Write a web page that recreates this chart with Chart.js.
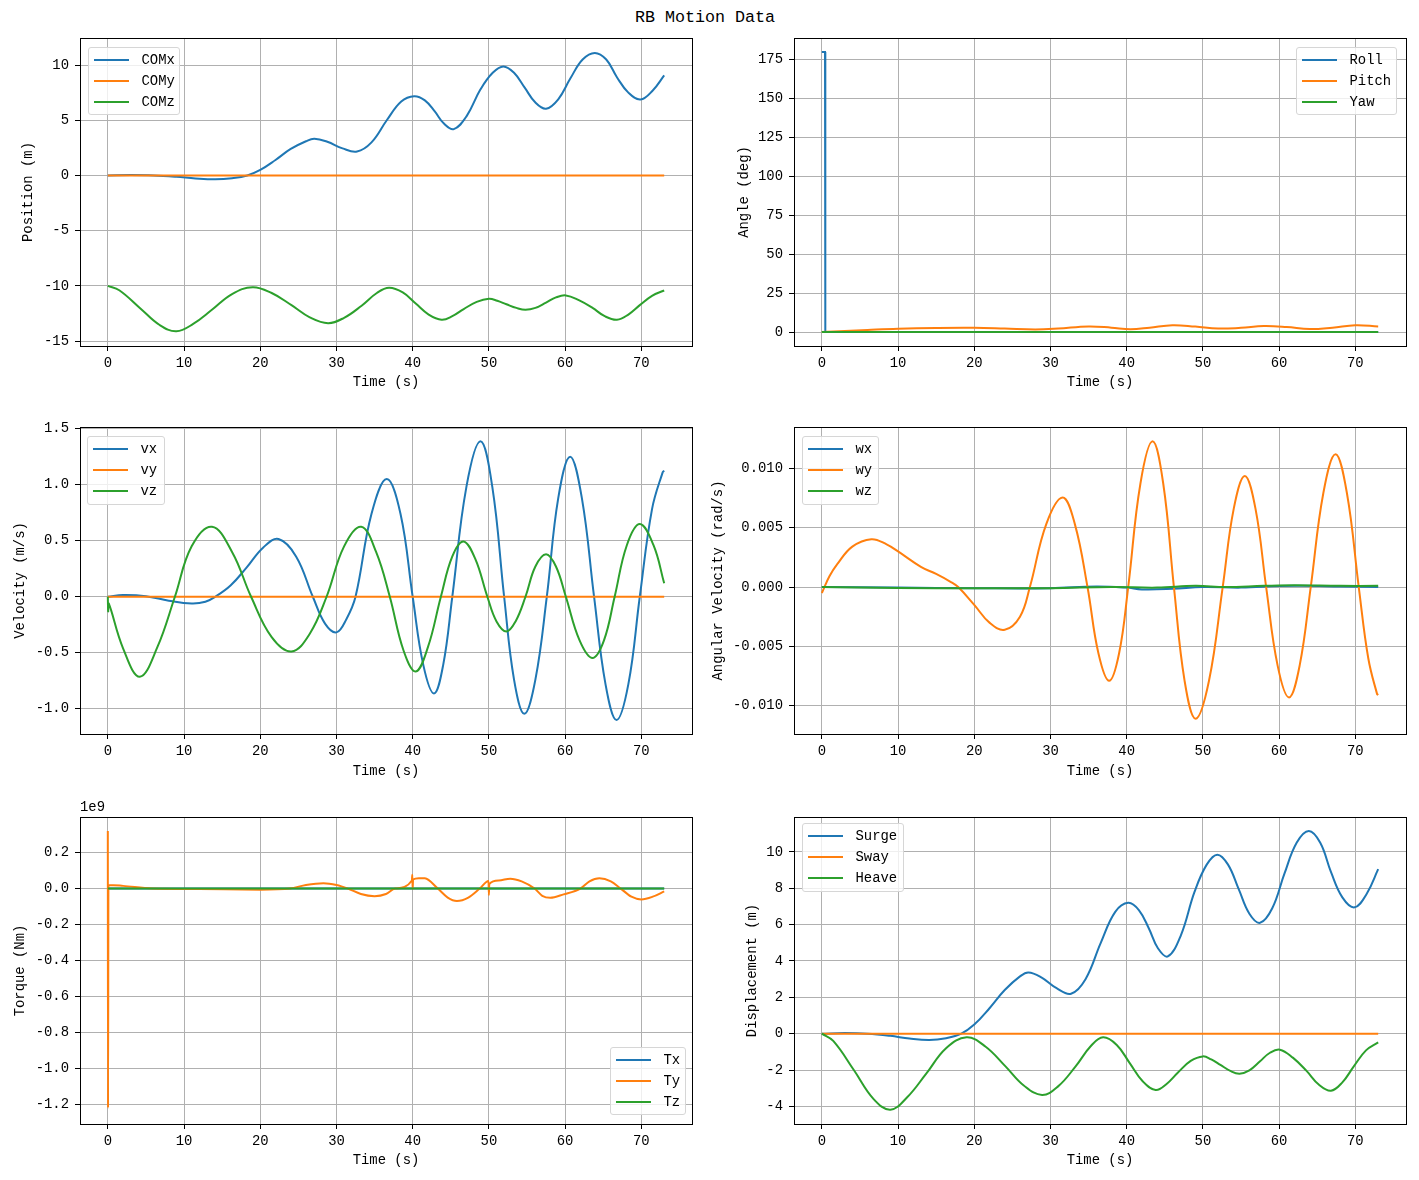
<!DOCTYPE html>
<html>
<head>
<meta charset="utf-8">
<script src="https://cdn.jsdelivr.net/npm/chart.js@4.4.1/dist/chart.umd.min.js"></script>
<style>
  html, body { margin: 0; padding: 0; background: #fff; }
  body { width: 1419px; height: 1180px; position: relative; overflow: hidden;
         font-family: "Liberation Mono", "DejaVu Sans Mono", monospace; color: #000; }
  canvas { position: absolute; }
  #suptitle { position: absolute; left: 0; top: 8px; width: 1410px; text-align: center;
              font-size: 16.7px; line-height: 20px; }
  .legend { position: absolute; box-sizing: border-box; border: 1px solid #d6d6d6;
            border-radius: 3px; background: rgba(255,255,255,0.8); }
  .legend .ln { position: absolute; height: 2px; width: 35px; }
  .legend .tx { position: absolute; font-size: 13.9px; line-height: 16px; white-space: nowrap; }
</style>
</head>
<body>
<div id="suptitle">RB Motion Data</div>
<script>
// ---------------- DATA ----------------
const timeTicks = [0, 10, 20, 30, 40, 50, 60, 70];

// Panel 1: Position
const posLabels = ['COMx', 'COMy', 'COMz'];
const comxT = [0, 3, 6, 9, 11.5, 14.1, 16.3, 18.3, 20, 22, 24, 26, 27.1, 28.8, 30.8, 32.7, 34.6, 36.6, 38.5, 40.2, 41.6, 42.9, 44.1, 45.4, 47.1, 48.9, 50.5, 51.9, 53.3, 54.7, 56.1, 57.5, 59.1, 60.7, 62.3, 63.9, 65.4, 66.8, 68.3, 69.9, 71.5, 73];
const comxV = [0, 0.03, 0.0, -0.12, -0.27, -0.35, -0.25, 0, 0.5, 1.4, 2.4, 3.1, 3.32, 3.05, 2.45, 2.17, 3.0, 5.0, 6.7, 7.18, 6.8, 5.8, 4.7, 4.2, 5.4, 7.8, 9.3, 9.87, 9.3, 7.95, 6.6, 6.04, 6.9, 8.8, 10.5, 11.1, 10.5, 8.9, 7.5, 6.88, 7.7, 9.06];
const comyT = [0, 73];
const comyV = [0, 0];
const comzT = [0, 1.5, 4.2, 6.8, 9.0, 11.2, 13.7, 16.3, 19.0, 21.5, 24.1, 26.5, 28.9, 31.0, 33.3, 35.3, 36.9, 38.7, 40.4, 42.1, 43.8, 45.2, 46.7, 48.4, 50.0, 51.1, 52.3, 53.6, 54.8, 56.1, 57.5, 58.8, 60.1, 61.8, 63.6, 65.2, 66.8, 68.3, 69.8, 71.4, 73];
const comzV = [-10, -10.4, -12.0, -13.55, -14.12, -13.45, -12.15, -10.75, -10.12, -10.65, -11.75, -12.85, -13.38, -12.9, -11.8, -10.65, -10.18, -10.6, -11.6, -12.6, -13.07, -12.75, -12.1, -11.45, -11.17, -11.35, -11.67, -12.0, -12.17, -12.0, -11.52, -11.05, -10.87, -11.3, -12.0, -12.75, -13.07, -12.6, -11.75, -10.9, -10.42];
const posTicks = [-15, -10, -5, 0, 5, 10];

// Panel 2: Angle
const angLabels = ['Roll', 'Pitch', 'Yaw'];
const rollT = [0, 0.42, 0.46, 73];
const rollV = [180, 180, 0, 0];
const pitchT = [0, 3, 6, 10, 15, 20, 24, 28, 31, 35, 38, 40.5, 43, 46, 49, 52, 55, 58, 61, 64, 67, 70, 73];
const pitchV = [0, 0.6, 1.3, 2.1, 2.6, 2.7, 2.2, 1.6, 2.2, 3.6, 2.8, 1.8, 2.8, 4.4, 3.5, 2.2, 2.7, 3.8, 3.2, 1.9, 2.8, 4.4, 3.6];
const yawT = [0, 73];
const yawV = [0, 0];
const angTicks = [0, 25, 50, 75, 100, 125, 150, 175];

// Panel 3: Velocity
const velLabels = ['vx', 'vy', 'vz'];
const vxT = [0, 2, 5, 8, 11, 12.8, 14.1, 16.1, 18.2, 20.4, 22.4, 24.7, 26.9, 28.5, 30, 31.3, 32.5, 34.6, 36.6, 38.4, 40.0, 41.4, 42.8, 44.0, 45.2, 47.05, 48.9, 50.45, 52, 53.3, 54.65, 56.1, 57.6, 59.1, 60.66, 62.2, 63.8, 65.3, 66.75, 68.3, 69.8, 71.4, 72.8, 73];
const vxV = [0, 0.015, 0.005, -0.035, -0.06, -0.045, 0, 0.1, 0.26, 0.44, 0.515, 0.36, 0, -0.24, -0.318, -0.2, 0, 0.74, 1.05, 0.74, 0, -0.61, -0.863, -0.61, 0, 0.98, 1.387, 0.98, 0, -0.74, -1.045, -0.74, 0, 0.88, 1.25, 0.88, 0, -0.78, -1.10, -0.78, 0, 0.78, 1.11, 1.125];
const vyT = [0, 73];
const vyV = [0, 0];
const vzT = [0, 0.05, 0.12, 2, 4.2, 6.5, 8.8, 11, 13.67, 16.3, 18.8, 21.5, 24.1, 26.5, 28.7, 31, 33.25, 35.2, 37, 38.8, 40.4, 42, 43.7, 45.2, 46.65, 48.2, 49.8, 51, 52.3, 53.5, 54.8, 56.1, 57.5, 58.8, 60.1, 61.9, 63.6, 65.1, 66.5, 68.1, 69.8, 71.6, 73];
const vzV = [0, -0.13, -0.06, -0.46, -0.714, -0.45, 0, 0.45, 0.625, 0.4, 0, -0.36, -0.488, -0.33, 0, 0.45, 0.625, 0.4, 0, -0.48, -0.667, -0.45, 0, 0.36, 0.494, 0.34, 0, -0.22, -0.31, -0.22, 0, 0.27, 0.38, 0.27, 0, -0.39, -0.547, -0.39, 0, 0.46, 0.649, 0.46, 0.12];
const velTicks = [-1.0, -0.5, 0.0, 0.5, 1.0, 1.5];

// Panel 4: Angular velocity
const omgLabels = ['wx', 'wy', 'wz'];
const wxT = [0, 10, 20, 30, 36, 40, 42, 46, 50, 55, 60, 63, 68, 73];
const wxV = [0, -0.00005, -0.0001, -0.0001, 0.00005, -0.00005, -0.0002, -0.00015, 0, -0.00005, 0.00008, 0.0001, 0.00005, 0];
const wyT = [0, 1, 2, 4, 6.5, 8.5, 10, 13, 15, 17, 17.9, 20, 22, 24, 26, 27.3, 29.45, 31.6, 33.2, 34.86, 36.3, 37.7, 39.0, 40.2, 41.8, 43.4, 44.8, 46.2, 47.6, 49.05, 50.8, 52.6, 54.05, 55.5, 56.9, 58.3, 59.8, 61.3, 62.7, 64.15, 65.8, 67.4, 68.9, 70.45, 71.7, 72.85, 73];
const wyV = [-0.0005, 0.0009, 0.0019, 0.0034, 0.00403, 0.0036, 0.003, 0.0017, 0.0011, 0.0004, 0, -0.0015, -0.003, -0.0036, -0.0025, 0, 0.0053, 0.00754, 0.0053, 0, -0.0056, -0.0079, -0.0056, 0, 0.0087, 0.01227, 0.0087, 0, -0.0079, -0.0111, -0.0079, 0, 0.0066, 0.00935, 0.0066, 0, -0.0066, -0.0093, -0.0066, 0, 0.0079, 0.01118, 0.0079, 0, -0.006, -0.009, -0.0091];
const wzT = [0, 10, 20, 30, 38, 44, 49, 53, 58, 62, 68, 73];
const wzV = [0, -0.00008, -0.0001, -0.0001, 0, -0.00005, 0.0001, 0, 0.0001, 0.00015, 0.0001, 0.0001];
const omgTicks = [-0.010, -0.005, 0.000, 0.005, 0.010];

// Panel 5: Torque
const torLabels = ['Tx', 'Ty', 'Tz'];
const txT = [0, 73];
const txV = [0, 0];
const tyT = [0, 0.03, 0.08, 2, 5.8, 12, 20, 23.9, 26, 28.3, 30, 31.5, 33.2, 35, 36.5, 37.7, 39.9, 39.95, 40.0, 40.05, 40.8, 41.6, 43.3, 44.6, 45.8, 47.3, 48.8, 49.95, 50.0, 50.05, 51.3, 52.8, 54.3, 56, 57, 58.05, 59.8, 62, 63.2, 64.5, 66, 67.3, 68.7, 70, 71.5, 73];
const tyV = [0.32e9, -1.218e9, 0.02e9, 0.015e9, 0, -0.003e9, -0.006e9, 0, 0.02e9, 0.03e9, 0.02e9, 0, -0.03e9, -0.042e9, -0.03e9, 0, 0.045e9, 0.077e9, -0.003e9, 0.05e9, 0.058e9, 0.057e9, 0, -0.05e9, -0.069e9, -0.05e9, 0, 0.042e9, -0.035e9, 0.025e9, 0.045e9, 0.055e9, 0.04e9, 0, -0.04e9, -0.051e9, -0.032e9, 0, 0.04e9, 0.057e9, 0.04e9, 0, -0.045e9, -0.06e9, -0.045e9, -0.016e9];
const tzT = [0, 73];
const tzV = [0, 0];
const torTicks = [-1.2e9, -1.0e9, -0.8e9, -0.6e9, -0.4e9, -0.2e9, 0, 0.2e9];

// Panel 6: Displacement
const dispLabels = ['Surge', 'Sway', 'Heave'];
const surgeT = [0, 3, 6, 9, 11.5, 14.1, 16.3, 18.3, 20, 22, 24, 26, 27.1, 28.8, 30.8, 32.7, 34.6, 36.6, 38.5, 40.2, 41.6, 42.9, 44.1, 45.4, 47.1, 48.9, 50.5, 51.9, 53.3, 54.7, 56.1, 57.5, 59.1, 60.7, 62.3, 63.9, 65.4, 66.8, 68.3, 69.9, 71.5, 73];
const surgeV = [0, 0.03, 0.0, -0.12, -0.27, -0.35, -0.25, 0, 0.5, 1.4, 2.4, 3.15, 3.37, 3.1, 2.5, 2.2, 3.0, 5.0, 6.7, 7.2, 6.8, 5.8, 4.7, 4.25, 5.4, 7.8, 9.3, 9.85, 9.3, 7.95, 6.6, 6.1, 6.9, 8.8, 10.5, 11.15, 10.5, 8.9, 7.5, 6.95, 7.7, 9.05];
const swayT = [0, 73];
const swayV = [0, 0];
const heaveT = [0, 1.5, 4.2, 6.8, 9.0, 11.2, 13.7, 16.3, 19.0, 21.5, 24.1, 26.5, 28.9, 31.0, 33.3, 35.3, 36.9, 38.7, 40.4, 42.1, 43.8, 45.2, 46.7, 48.4, 50.0, 51.1, 52.3, 53.6, 54.8, 56.1, 57.5, 58.8, 60.1, 61.8, 63.6, 65.2, 66.8, 68.3, 69.8, 71.4, 73];
const heaveV = [0, -0.4, -2.0, -3.6, -4.18, -3.5, -2.2, -0.8, -0.2, -0.72, -1.8, -2.85, -3.37, -2.9, -1.8, -0.68, -0.2, -0.62, -1.62, -2.62, -3.1, -2.78, -2.15, -1.5, -1.25, -1.42, -1.72, -2.05, -2.2, -2.02, -1.52, -1.05, -0.88, -1.32, -2.05, -2.8, -3.14, -2.68, -1.8, -0.92, -0.48];
const dispTicks = [-4, -2, 0, 2, 4, 6, 8, 10];

// ---------------- STYLE / LAYOUT ----------------
const FONT = '"Liberation Mono", "DejaVu Sans Mono", monospace';
const FS = 13.9;
const COLORS = ['#1f77b4', '#ff7f0e', '#2ca02c'];

const framePlugin = {
  id: 'frame',
  afterDatasetsDraw(chart) {
    const { ctx, chartArea: a } = chart;
    ctx.save();
    ctx.strokeStyle = '#000';
    ctx.lineWidth = 1;
    ctx.strokeRect(Math.round(a.left) + 0.5, Math.round(a.top) + 0.5,
                   Math.round(a.right) - Math.round(a.left), Math.round(a.bottom) - Math.round(a.top));
    ctx.restore();
  }
};
const offsetTextPlugin = {
  id: 'offsetText',
  afterDraw(chart, args, opts) {
    if (!opts || !opts.text) return;
    const { ctx, chartArea: a } = chart;
    ctx.save();
    ctx.font = FS + 'px ' + FONT;
    ctx.fillStyle = '#000';
    ctx.textAlign = 'left';
    ctx.textBaseline = 'alphabetic';
    ctx.fillText(opts.text, a.left, a.top - 6);
    ctx.restore();
  }
};

function makeLegend(lg, labels) {
  const box = document.createElement('div');
  box.className = 'legend';
  box.style.left = lg[0] + 'px';
  box.style.top = lg[1] + 'px';
  box.style.width = lg[2] + 'px';
  box.style.height = lg[3] + 'px';
  labels.forEach((lab, i) => {
    const cy = 12.5 + 21 * i - 1;
    const ln = document.createElement('div');
    ln.className = 'ln';
    ln.style.left = '5px';
    ln.style.top = (cy - 1) + 'px';
    ln.style.background = COLORS[i];
    const tx = document.createElement('div');
    tx.className = 'tx';
    tx.style.left = '52.5px';
    tx.style.top = (cy - 8) + 'px';
    tx.textContent = lab;
    box.appendChild(ln);
    box.appendChild(tx);
  });
  document.body.appendChild(box);
}

function makePanel(p) {
  const left = Math.round(p.labelCx - 8.34);
  const top = p.ax[1] - 22;
  const right = p.ax[2] + 10;
  const xH = Math.round(p.xTitleCy + 8.34 - p.ax[3]);
  const bottom = p.ax[3] + xH;
  const yW = p.ax[0] - left;
  const cv = document.createElement('canvas');
  cv.width = right - left;
  cv.height = bottom - top;
  cv.style.left = left + 'px';
  cv.style.top = top + 'px';
  cv.style.width = (right - left) + 'px';
  cv.style.height = (bottom - top) + 'px';
  document.body.appendChild(cv);

  const n = p.series.length;
  const datasets = p.series.map((s, i) => ({
    label: s.label,
    data: s.t.map((x, j) => ({ x: x, y: s.v[j] })),
    borderColor: COLORS[i],
    backgroundColor: COLORS[i],
    borderWidth: 2,
    pointRadius: 0,
    fill: false,
    tension: s.mode === 'straight' ? 0 : 0.4,
    cubicInterpolationMode: s.mode === 'monotone' ? 'monotone' : 'default',
    order: n - 1 - i
  }));

  const tickFont = { family: FONT, size: FS };
  const gridOpts = { color: '#b0b0b0', lineWidth: 1, tickColor: '#000', tickWidth: 1, tickLength: 5, drawTicks: true };

  new Chart(cv, {
    type: 'line',
    data: { datasets },
    plugins: [framePlugin, offsetTextPlugin],
    options: {
      responsive: false,
      animation: false,
      events: [],
      layout: { padding: { left: 0, top: 22, right: 10, bottom: 0 } },
      plugins: {
        legend: { display: false },
        tooltip: { enabled: false },
        title: { display: false },
        offsetText: { text: p.offsetText || '' }
      },
      scales: {
        x: {
          type: 'linear',
          min: -3.65, max: 76.65,
          afterBuildTicks: (s) => { s.ticks = timeTicks.map(v => ({ value: v })); },
          afterFit: (s) => { s.height = xH; },
          grid: gridOpts,
          border: { display: false },
          ticks: { autoSkip: false, maxRotation: 0, minRotation: 0, padding: 4, color: '#000', font: tickFont,
                   callback: (v) => String(v) },
          title: { display: true, text: 'Time (s)', padding: 0, color: '#000', font: { family: FONT, size: FS, lineHeight: 1.2 } }
        },
        y: {
          type: 'linear',
          min: p.yMin, max: p.yMax,
          afterBuildTicks: (s) => { s.ticks = p.yTicks.map(v => ({ value: v })); },
          afterFit: (s) => { s.width = yW; },
          grid: gridOpts,
          border: { display: false },
          ticks: { autoSkip: false, padding: 6, color: '#000', font: tickFont,
                   callback: (v) => (v / (p.scale || 1)).toFixed(p.dec) },
          title: { display: true, text: p.ylabel, padding: 0, color: '#000', font: { family: FONT, size: FS, lineHeight: 1.2 } }
        }
      }
    }
  });
  makeLegend(p.legend, p.series.map(s => s.label));
}

const panels = [
  { ax: [80, 38, 692, 346], labelCx: 28, xTitleCy: 383, ylabel: 'Position (m)',
    yMin: -15.45, yMax: 12.45, yTicks: posTicks, dec: 0, legend: [88, 47, 92, 68],
    series: [ { label: posLabels[0], t: comxT, v: comxV }, { label: posLabels[1], t: comyT, v: comyV }, { label: posLabels[2], t: comzT, v: comzV } ] },
  { ax: [794, 38, 1406, 346], labelCx: 744, xTitleCy: 383, ylabel: 'Angle (deg)',
    yMin: -9, yMax: 189, yTicks: angTicks, dec: 0, legend: [1296, 47, 101, 68],
    series: [ { label: angLabels[0], t: rollT, v: rollV, mode: 'straight' }, { label: angLabels[1], t: pitchT, v: pitchV }, { label: angLabels[2], t: yawT, v: yawV } ] },
  { ax: [80, 427, 692, 734], labelCx: 20, xTitleCy: 772, ylabel: 'Velocity (m/s)',
    yMin: -1.225, yMax: 1.515, yTicks: velTicks, dec: 1, legend: [87, 436, 78, 69],
    series: [ { label: velLabels[0], t: vxT, v: vxV }, { label: velLabels[1], t: vyT, v: vyV }, { label: velLabels[2], t: vzT, v: vzV } ] },
  { ax: [794, 427, 1406, 734], labelCx: 718, xTitleCy: 772, ylabel: 'Angular Velocity (rad/s)',
    yMin: -0.01238, yMax: 0.01348, yTicks: omgTicks, dec: 3, legend: [802, 436, 77, 69],
    series: [ { label: omgLabels[0], t: wxT, v: wxV }, { label: omgLabels[1], t: wyT, v: wyV }, { label: omgLabels[2], t: wzT, v: wzV } ] },
  { ax: [80, 817, 692, 1124], labelCx: 20, xTitleCy: 1161, ylabel: 'Torque (Nm)',
    yMin: -1.3075e9, yMax: 0.3975e9, yTicks: torTicks, dec: 1, scale: 1e9, offsetText: '1e9', legend: [610, 1047, 76, 68],
    series: [ { label: torLabels[0], t: txT, v: txV }, { label: torLabels[1], t: tyT, v: tyV, mode: 'monotone' }, { label: torLabels[2], t: tzT, v: tzV } ] },
  { ax: [794, 817, 1406, 1124], labelCx: 752, xTitleCy: 1161, ylabel: 'Displacement (m)',
    yMin: -4.97, yMax: 11.92, yTicks: dispTicks, dec: 0, legend: [802, 823, 102, 69],
    series: [ { label: dispLabels[0], t: surgeT, v: surgeV }, { label: dispLabels[1], t: swayT, v: swayV }, { label: dispLabels[2], t: heaveT, v: heaveV } ] }
];

panels.forEach(makePanel);
</script>
</body>
</html>
